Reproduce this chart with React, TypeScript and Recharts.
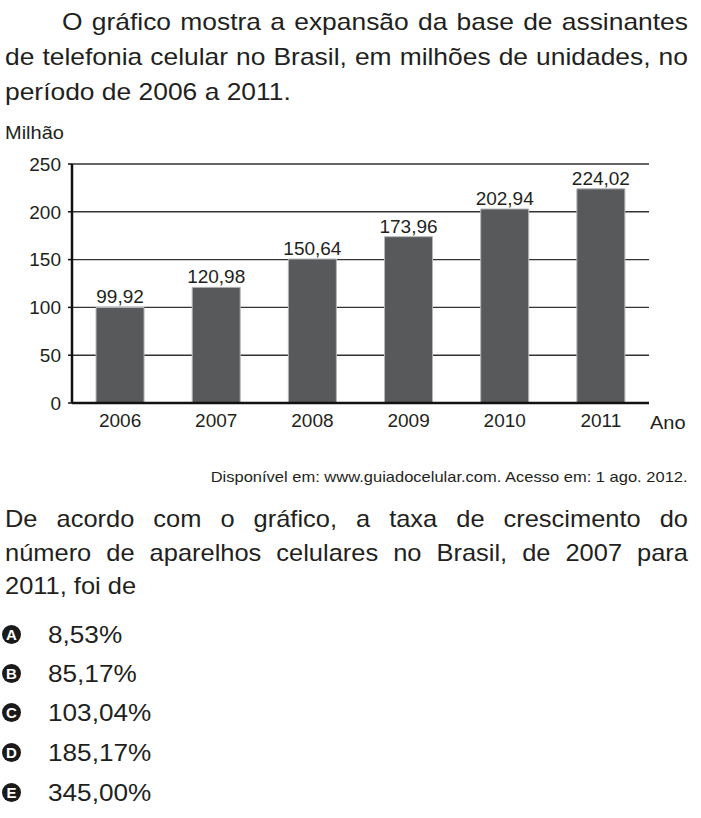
import React from 'react'
import { BarChart, Bar, XAxis, YAxis, CartesianGrid, LabelList } from 'recharts'

// dados do gráfico (milhões de assinantes)
const anos = ['2006', '2007', '2008', '2009', '2010', '2011']
const assinantes = [99.92, 120.98, 150.64, 173.96, 202.94, 224.02]
const yTicks = [0, 50, 100, 150, 200, 250]

const enunciado = [
  'O gráfico mostra a expansão da base de assinantes',
  'de telefonia celular no Brasil, em milhões de unidades, no',
  'período de 2006 a 2011.',
]
const pergunta = [
  'De acordo com o gráfico, a taxa de crescimento do',
  'número de aparelhos celulares no Brasil, de 2007 para',
  '2011, foi de',
]
const letras = ['A', 'B', 'C', 'D', 'E']
const alternativas = ['8,53%', '85,17%', '103,04%', '185,17%', '345,00%']

const data = anos.map((ano, i) => ({ ano, valor: assinantes[i] }))

const FONT = "'Liberation Sans', Arial, sans-serif"
const INK = '#231f20'

function formatValor(v: number) {
  return v.toFixed(2).replace('.', ',')
}

// texto com leve alongamento horizontal (a fonte do original é mais larga)
function Txt({ children, top, left, width, size, scale, justify, right }: {
  children: React.ReactNode
  top: number
  left?: number
  width?: number
  size: number
  scale: number
  justify?: boolean
  right?: number
}) {
  return (
    <div
      style={{
        position: 'absolute',
        top,
        left,
        right,
        width: width ? width / scale : undefined,
        fontSize: size,
        lineHeight: `${size}px`,
        fontFamily: FONT,
        color: INK,
        whiteSpace: 'nowrap',
        textAlign: 'justify',
        textAlignLast: justify ? 'justify' : 'left',
        transform: `scaleX(${scale})`,
        transformOrigin: right !== undefined ? 'right top' : 'left top',
      }}
    >
      {children}
    </div>
  )
}

export default function App() {
  const optTops = [623, 662, 701, 741, 781]
  const tickStyle = { fill: INK, fontSize: 19, fontFamily: FONT }
  return (
    <div
      style={{
        position: 'absolute',
        left: 0,
        top: 0,
        width: 701,
        height: 818,
        background: '#fff',
        fontFamily: FONT,
        color: INK,
      }}
    >
      <Txt top={10} left={62} width={626} size={24} scale={1.1} justify>{enunciado[0]}</Txt>
      <Txt top={45} left={5} width={683} size={24} scale={1.1} justify>{enunciado[1]}</Txt>
      <Txt top={80} left={5} size={24} scale={1.1}>{enunciado[2]}</Txt>

      <Txt top={124} left={5} size={18.5} scale={1.08}>Milhão</Txt>

      <div style={{ position: 'absolute', left: 0, top: 120 }}>
        <BarChart
          width={701}
          height={330}
          data={data}
          margin={{ top: 44, right: 52, left: 12, bottom: 17 }}
          barCategoryGap="25%"
        >
          <CartesianGrid vertical={false} stroke="#333" strokeWidth={1.4} />
          <XAxis
            dataKey="ano"
            height={30}
            tickLine={false}
            axisLine={{ stroke: '#111', strokeWidth: 2.5 }}
            tick={tickStyle}
            tickMargin={5}
          />
          <YAxis
            width={60}
            domain={[0, 250]}
            ticks={yTicks}
            interval={0}
            tickSize={4}
            tickMargin={7}
            tickLine={{ stroke: '#111', strokeWidth: 1.5 }}
            axisLine={{ stroke: '#111', strokeWidth: 2.5 }}
            tick={tickStyle}
          />
          <Bar dataKey="valor" fill="#58595b" stroke="#b5b6b8" strokeWidth={1} isAnimationActive={false}>
            <LabelList
              dataKey="valor"
              position="top"
              offset={4}
              formatter={(v: any) => formatValor(Number(v))}
              style={tickStyle}
            />
          </Bar>
        </BarChart>
      </div>

      <Txt top={414} left={650} size={18.5} scale={1.08}>Ano</Txt>

      <Txt top={469} right={13} size={15} scale={1.1}>
        Disponível em: www.guiadocelular.com. Acesso em: 1 ago. 2012.
      </Txt>

      <Txt top={507} left={5} width={683} size={24} scale={1.06} justify>{pergunta[0]}</Txt>
      <Txt top={541} left={5} width={683} size={24} scale={1.06} justify>{pergunta[1]}</Txt>
      <Txt top={574} left={5} size={24} scale={1.06}>{pergunta[2]}</Txt>

      {alternativas.map((alt, i) => (
        <div key={letras[i]} style={{ position: 'absolute', left: 0, top: optTops[i], height: 24 }}>
          <div
            style={{
              position: 'absolute',
              left: 2,
              top: 2,
              width: 19,
              height: 19,
              borderRadius: 10,
              background: '#1a1a1a',
              color: '#fff',
              fontSize: 15,
              fontWeight: 'bold',
              lineHeight: '19px',
              textAlign: 'center',
              fontFamily: FONT,
            }}
          >
            {letras[i]}
          </div>
          <Txt top={0} left={48} size={24} scale={1.09}>{alt}</Txt>
        </div>
      ))}
    </div>
  )
}
